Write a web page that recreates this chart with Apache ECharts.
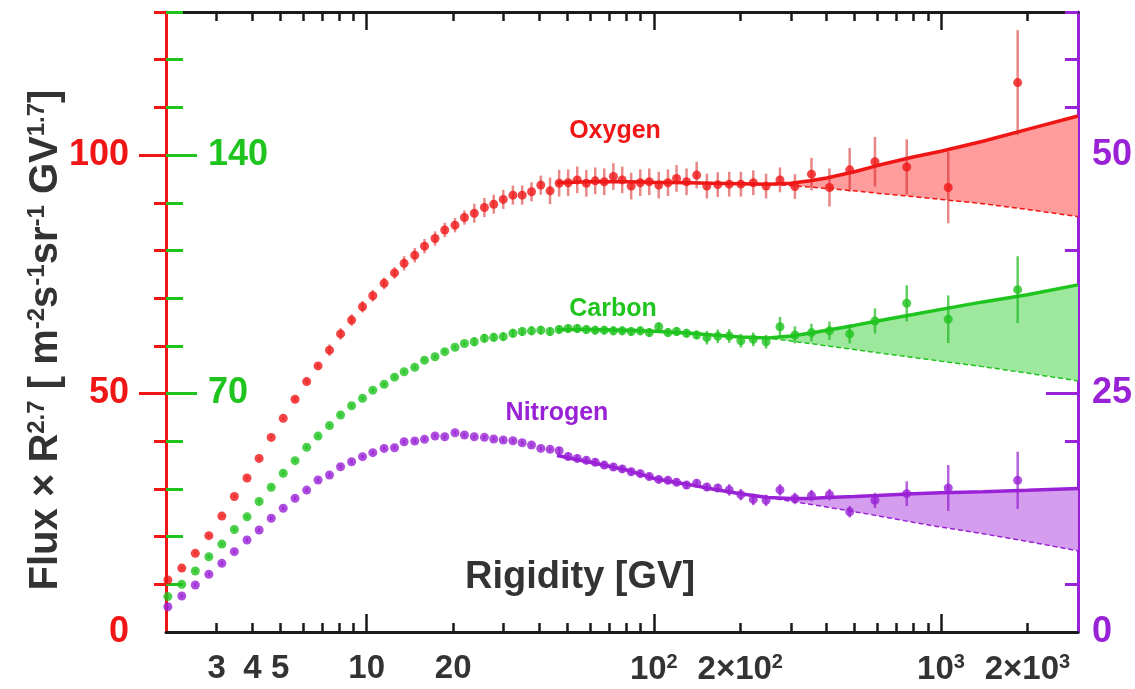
<!DOCTYPE html>
<html><head><meta charset="utf-8">
<script src="https://cdn.jsdelivr.net/npm/echarts@6/dist/echarts.min.js"></script>
<style>html,body{margin:0;padding:0;background:#fff}#c{width:1135px;height:689px}</style>
</head><body><div id="c"></div>
<script>
// ---- data (rigidity bin centers in GV) ----
const rigidity = [2.03,2.27,2.53,2.82,3.13,3.46,3.83,4.22,4.65,5.12,
  5.63,6.18,6.77,7.42,8.11,8.86,9.67,10.5,11.5,12.5,
  13.5,14.7,15.9,17.3,18.7,20.3,21.9,23.7,25.7,27.7,
  29.9,32.3,34.8,37.5,40.4,43.5,46.8,50.3,54.1,58.2,
  62.5,67.2,72.3,77.6,83.4,89.7,96.4,104,112,120,
  130,141,153,167,183,201,222,246,275,310,
  354,409,481,589,760,1060,1850];
// Oxygen (red axis units)
const oxygen = [10.9,13.4,16.5,20.2,24.3,28.4,32.3,36.4,40.8,44.8,
  48.8,52.5,55.8,59.1,62.5,65.4,68.2,70.5,73.1,75.3,
  77.3,79.0,80.9,82.5,84.3,85.3,86.9,87.8,89.0,89.7,
  90.7,91.6,91.6,92.3,93.7,92.5,94.1,94.2,94.8,94.1,
  94.6,94.4,95.5,94.8,93.5,94.2,94.4,93.7,94.2,95.1,
  94.4,95.8,93.5,93.8,93.9,93.9,94.2,93.5,94.8,93.4,
  96.0,93.2,96.9,98.6,97.5,93.2,115.2];
const oxygenErr = [0.3,0.3,0.3,0.3,0.3,0.3,0.3,0.3,0.3,0.3,
  0.5,0.5,0.5,1.2,1.2,1.2,1.2,1.2,1.2,1.2,
  1.5,1.5,1.5,1.5,1.5,1.5,1.5,2.0,2.0,2.0,
  2.0,2.0,2.0,2.0,2.0,2.8,2.8,2.8,2.8,2.8,
  2.8,2.8,2.8,2.8,2.8,2.8,2.8,2.8,2.8,2.8,
  2.8,2.8,2.6,2.6,2.6,2.6,2.6,2.6,2.6,2.6,
  3.4,4.0,4.6,5.2,5.8,7.5,11.0];
// Carbon (green axis units)
const carbon = [10.4,14.0,17.9,22.1,25.8,30.1,33.8,38.3,42.5,46.6,
  50.3,54.2,57.5,60.6,63.7,66.4,68.6,71.0,72.7,74.8,
  76.4,77.7,79.8,80.8,82.3,83.6,84.7,85.2,86.2,86.5,
  86.7,87.7,88.2,88.4,88.6,88.2,88.8,89.1,89.1,88.8,
  88.6,88.6,88.4,88.4,88.2,88.4,87.9,89.6,87.9,88.2,
  87.7,87.2,86.4,86.8,86.9,85.5,85.9,85.2,89.6,87.2,
  87.9,88.4,87.5,91.3,96.5,91.8,100.5];
const carbonErr = [0.5,0.5,0.5,0.5,0.5,0.5,0.5,0.5,0.5,0.5,
  0.5,0.5,0.5,0.5,0.5,0.5,0.5,0.5,0.5,0.5,
  0.5,0.5,0.5,0.5,0.5,0.5,0.5,1.3,1.3,1.3,
  1.3,1.3,1.3,1.3,1.3,1.3,1.3,1.3,1.3,1.3,
  1.3,1.3,1.3,1.3,1.3,1.3,1.3,1.3,1.3,1.3,
  1.3,1.3,2.0,2.0,2.0,2.0,2.0,2.0,2.9,2.5,
  2.6,2.7,2.8,3.7,5.3,7.0,9.8];
// Nitrogen (purple axis units)
const nitrogen = [2.65,3.77,4.93,6.05,7.20,8.42,9.64,10.69,11.92,12.97,
  14.01,14.88,15.93,16.46,17.33,17.85,18.38,18.80,19.25,19.32,
  19.95,20.02,20.20,20.55,20.47,20.89,20.65,20.47,20.41,20.23,
  20.13,20.05,19.84,19.60,19.25,19.15,19.0,18.4,18.2,18.0,
  17.8,17.5,17.3,17.1,16.8,16.6,16.3,16.0,15.9,15.7,
  15.4,15.6,15.2,15.1,14.9,14.4,13.9,13.8,14.9,14.0,
  14.3,14.4,12.6,13.8,14.5,15.1,15.9];
const nitrogenErr = [0.2,0.2,0.2,0.2,0.2,0.2,0.2,0.2,0.2,0.2,
  0.2,0.2,0.2,0.2,0.2,0.2,0.2,0.2,0.2,0.2,
  0.2,0.2,0.2,0.2,0.2,0.2,0.2,0.2,0.2,0.2,
  0.2,0.2,0.2,0.2,0.2,0.2,0.4,0.4,0.4,0.4,
  0.4,0.4,0.4,0.4,0.4,0.4,0.4,0.4,0.4,0.4,
  0.4,0.4,0.4,0.4,0.6,0.6,0.6,0.6,0.6,0.6,
  0.6,0.6,0.6,0.8,1.3,2.4,3.0];
// fits: solid (with hardening) and dashed (single power-law extrapolation)
const fitR = [46,60,80,100,130,160,200,250,300,350,400,500,600,800,1000,1400,2000,3000];
const oxygenFit  = [94.2,94.4,94.4,94.3,94.2,94.1,94.0,93.9,94.1,94.6,95.2,96.5,97.8,99.6,100.8,102.9,105.4,108.2];
const oxygenBase = [94.2,94.4,94.4,94.3,94.2,94.1,94.0,93.9,93.6,93.3,93.0,92.5,92.0,91.3,90.7,89.8,88.6,87.1];
const carbonFit  = [88.8,88.8,88.6,88.3,87.8,87.2,86.6,86.3,86.9,87.7,88.6,90.0,91.3,93.2,94.7,96.9,99.0,101.9];
const carbonBase = [88.8,88.8,88.6,88.3,87.8,87.2,86.6,86.3,85.4,84.7,84.0,82.9,82.0,80.6,79.5,77.9,76.0,73.7];
const nitrogenFit  = [18.5,17.8,17.0,16.1,15.5,15.0,14.5,14.1,14.0,14.0,14.1,14.2,14.3,14.5,14.6,14.7,14.85,15.05];
const nitrogenBase = [18.5,17.8,17.0,16.1,15.5,15.0,14.5,14.1,13.7,13.4,13.1,12.6,12.2,11.5,11.0,10.3,9.5,8.5];
// axes
const xMin = 2, xMax = 3000;
const xLabelValues = [3,4,5,10,20,100,200,1000,2000];
const xLabelTexts = ['3','4','5','10','20','10{s|2}','2×10{s|2}','10{s|3}','2×10{s|3}'];
const xMajorTicks = [10,100,1000];
const xMinorTicks = [3,4,5,6,7,8,9,20,30,40,50,60,70,80,90,200,300,400,500,600,700,800,900,2000];
const redMax = 130, redMinorTicks = [10,20,30,40,60,70,80,90,110,120,130], redMajorTicks = [50,100], redLabels = [0,50,100];
const greenMax = 182, greenMinorTicks = [14,28,42,56,84,98,112,126,154,168,182], greenMajorTicks = [70,140], greenLabels = [70,140];
const purpleMax = 65, purpleMinorTicks = [5,10,15,20,30,35,40,45,55,60,65], purpleMajorTicks = [25,50], purpleLabels = [0,25,50];

const RED = '#f01616', GREEN = '#1fc41f', PURPLE = '#9a22d6', DARK = '#333333';
const FONT = '"Liberation Sans", Arial, Helvetica, sans-serif';
const LX = v => Math.log10(v);

function xAxisDef(pos, ticks, len, withLabels, withLine) {
  return {
    type: 'value', position: pos, min: LX(xMin), max: LX(xMax),
    axisLine: {show: withLine, onZero: false, lineStyle: {color: '#1a1a1a', width: 3}},
    axisTick: {show: true, inside: true, length: len, customValues: ticks.map(LX), lineStyle: {color: '#1a1a1a', width: 2.5}},
    axisLabel: withLabels ? {
      show: true, customValues: xLabelValues.map(LX), margin: 20,
      fontSize: 33, fontWeight: 'bold', color: DARK, fontFamily: FONT,
      formatter: v => { const i = xLabelValues.findIndex(t => Math.abs(LX(t) - v) < 1e-6); return i >= 0 ? xLabelTexts[i] : ''; },
      rich: {s: {fontSize: 20, fontWeight: 'bold', color: DARK, fontFamily: FONT, verticalAlign: 'bottom', padding: [0, 0, 15, 0]}}
    } : {show: false},
    splitLine: {show: false}
  };
}
function yAxisDef(pos, max, color, ticks, len, inside, labels, margin, withLine) {
  return {
    type: 'value', position: pos, min: 0, max: max,
    axisLine: {show: withLine, onZero: false, lineStyle: {color: color, width: 3}},
    axisTick: {show: true, inside: inside, length: len, customValues: ticks, lineStyle: {color: color, width: 3}},
    axisLabel: labels ? {show: true, customValues: labels, inside: inside, margin: margin,
      fontSize: 36, fontWeight: 'bold', color: color, fontFamily: FONT} : {show: false},
    splitLine: {show: false}
  };
}
function errSeries(yIdx, vals, errs, color) {
  return {
    type: 'custom', xAxisIndex: 0, yAxisIndex: yIdx, z: 4, silent: true,
    encode: {x: 0, y: [1, 2]},
    data: rigidity.map((r, i) => [LX(r), vals[i] - errs[i], vals[i] + errs[i]]),
    renderItem: (params, api) => {
      const x = api.value(0);
      const a = api.coord([x, api.value(1)]);
      const b = api.coord([x, api.value(2)]);
      return {type: 'line', shape: {x1: a[0], y1: a[1], x2: b[0], y2: b[1]}, style: {stroke: color, lineWidth: 2.5}};
    }
  };
}
function pointSeries(yIdx, vals, color) {
  return {type: 'scatter', xAxisIndex: 0, yAxisIndex: yIdx, z: 5, symbol: 'circle', symbolSize: 9,
    itemStyle: {color: color}, data: rigidity.map((r, i) => [LX(r), vals[i]])};
}
function fitSeries(yIdx, fit, base, color, fill) {
  return [
    {type: 'custom', xAxisIndex: 0, yAxisIndex: yIdx, z: 1, silent: true,
     encode: {x: 0, y: 1}, data: [[LX(fitR[0]), base[0]]],
     renderItem: (params, api) => {
       const pts = [];
       for (let i = 0; i < fitR.length; i++) pts.push(api.coord([LX(fitR[i]), fit[i]]));
       for (let i = fitR.length - 1; i >= 0; i--) pts.push(api.coord([LX(fitR[i]), base[i]]));
       return {type: 'polygon', shape: {points: pts}, style: {fill: fill}};
     }},
    {type: 'line', xAxisIndex: 0, yAxisIndex: yIdx, z: 2, symbol: 'none', silent: true,
     lineStyle: {color: color, width: 1.5, type: [5, 3]},
     data: fitR.map((r, i) => [LX(r), base[i]])},
    {type: 'line', xAxisIndex: 0, yAxisIndex: yIdx, z: 3, symbol: 'none', silent: true,
     lineStyle: {color: color, width: 3.5},
     data: fitR.map((r, i) => [LX(r), fit[i]])}
  ];
}

const chart = echarts.init(document.getElementById('c'), null, {renderer: 'canvas'});
chart.setOption({
  animation: false,
  backgroundColor: '#ffffff',
  grid: {left: 166, right: 57, top: 12, bottom: 57, containLabel: false},
  xAxis: [
    xAxisDef('bottom', xMajorTicks, 18, true, true),
    xAxisDef('bottom', xMinorTicks, 9, false, false),
    xAxisDef('top', xMajorTicks, 18, false, true),
    xAxisDef('top', xMinorTicks, 9, false, false)
  ],
  yAxis: [
    yAxisDef('left', redMax, RED, redMinorTicks, 12, false, null, 0, true),
    yAxisDef('left', redMax, RED, redMajorTicks, 27, false, redLabels, 37, false),
    yAxisDef('left', greenMax, GREEN, greenMinorTicks, 17, true, null, 0, false),
    yAxisDef('left', greenMax, GREEN, greenMajorTicks, 31, true, greenLabels, 42, false),
    yAxisDef('right', purpleMax, PURPLE, purpleMinorTicks, 13, true, null, 0, true),
    yAxisDef('right', purpleMax, PURPLE, purpleMajorTicks, 32, true, null, 0, false),
    yAxisDef('right', purpleMax, PURPLE, [], 0, false, purpleLabels, 14, false)
  ],
  series: [
    ...fitSeries(0, oxygenFit, oxygenBase, RED, '#ff9c9c'),
    ...fitSeries(2, carbonFit, carbonBase, GREEN, '#9de89d'),
    ...fitSeries(4, nitrogenFit, nitrogenBase, PURPLE, '#d59ded'),
    errSeries(0, oxygen, oxygenErr, 'rgba(215,35,35,0.55)'),
    errSeries(2, carbon, carbonErr, 'rgba(30,185,30,0.7)'),
    errSeries(4, nitrogen, nitrogenErr, 'rgba(150,30,210,0.7)'),
    pointSeries(0, oxygen, RED),
    pointSeries(2, carbon, GREEN),
    pointSeries(4, nitrogen, PURPLE)
  ],
  graphic: [
    {type: 'text', x: 615, y: 131, z: 10, style: {text: 'Oxygen', fill: RED, font: 'bold 25px ' + FONT, align: 'center', verticalAlign: 'middle'}},
    {type: 'text', x: 613, y: 309, z: 10, style: {text: 'Carbon', fill: GREEN, font: 'bold 25px ' + FONT, align: 'center', verticalAlign: 'middle'}},
    {type: 'text', x: 557, y: 413, z: 10, style: {text: 'Nitrogen', fill: PURPLE, font: 'bold 25px ' + FONT, align: 'center', verticalAlign: 'middle'}},
    {type: 'text', x: 580, y: 578, z: 10, style: {text: 'Rigidity [GV]', fill: DARK, font: 'bold 38px ' + FONT, align: 'center', verticalAlign: 'middle'}},
    {type: 'text', x: 46, y: 340, z: 10, rotation: Math.PI / 2,
     style: {text: 'Flux × R{s|2.7} [ m{s|-2}s{s|-1}sr{s|-1} GV{s|1.7}]', fill: DARK, fontSize: 40, fontWeight: 'bold', fontFamily: FONT,
       align: 'center', verticalAlign: 'middle',
       rich: {s: {fill: DARK, fontSize: 24, fontWeight: 'bold', fontFamily: FONT, verticalAlign: 'bottom', padding: [0, 0, 17, 0]}}}}
  ]
});
</script></body></html>
